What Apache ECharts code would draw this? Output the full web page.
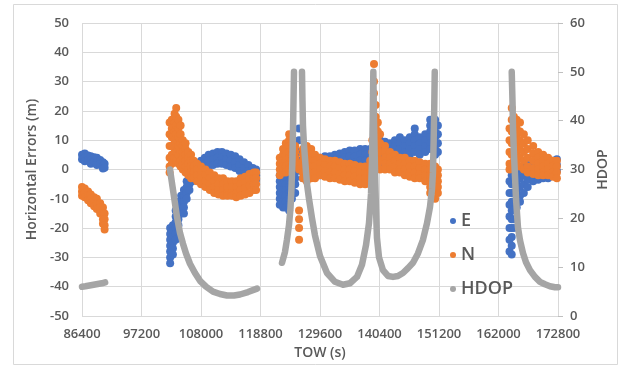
<!DOCTYPE html>
<html>
<head>
<meta charset="utf-8">
<script src="https://cdn.jsdelivr.net/npm/echarts@6/dist/echarts.min.js"></script>
<style>
html,body{margin:0;padding:0;background:#fff;}
#chart{width:620px;height:368px;}
</style>
</head>
<body>
<div id="chart"></div>
<script>
// ---- axis ticks ----
const xTicks = [86400, 97200, 108000, 118800, 129600, 140400, 151200, 162000, 172800];
const leftTicks = [-50, -40, -30, -20, -10, 0, 10, 20, 30, 40, 50];
const rightTicks = [0, 10, 20, 30, 40, 50, 60];
const seriesNames = ['E', 'N', 'HDOP'];

// ---- E (m): [TOW, values read at that TOW] ----
const eCols = [
  [86400, [5, 3.5]], [86900, [5.5, 4, 2.8]], [87500, [4.8, 3.2]], [88000, [4.5, 3, 2]],
  [88600, [4.2, 2.8]], [89100, [4, 2.5, 1.5]], [89700, [3.2, 1.8]], [90200, [2.5, 1, 0.3]], [90500, [2, 0.6]],
  [102400, [-20, -22, -24, -26, -28, -30, -32]], [102900, [-19, -21, -23, -25, -27, -29]],
  [103400, [-14, -16, -18, -20, -22, -24]], [103900, [-11, -13, -15, -17, -19]],
  [104400, [-9, -11, -13, -15]], [104900, [-7, -9, -11, -13, -15]], [105400, [-4, -6, -8, -10]],
  [105900, [-1, -3, -5, -7]], [106400, [0, -2, -4]], [106900, [1, -1, -3]], [107400, [2, 0, -2]],
  [108000, [3, 1, -1]], [108700, [4, 2, 0]], [109400, [5, 3, 1]], [110200, [5.5, 3.5, 1.5]],
  [111000, [6, 4, 2]], [111800, [6, 4, 2]], [112600, [5.5, 3.5, 1.5]], [113400, [5, 3, 1]],
  [114200, [4.5, 2.5, 0.5]], [115000, [3.5, 1.5, -0.5]], [115800, [2.5, 0.5, -1.5]],
  [116600, [1.5, -0.5, -2.5]], [117400, [0.5, -1.5, -3]], [118000, [0, -2, -3.5]],
  [122300, [-2, -4, -6, -8, -10, -12]], [122900, [-1, -3, -5, -7, -9, -11, -13]],
  [123400, [-1, -3, -5, -7, -9, -11, -13]], [124000, [0, -2, -4, -6, -8, -10, -12, -14]],
  [124500, [0, -2, -4, -6, -8, -10]], [125100, [1, -1, -3, -5, -8]], [125800, [14, 10, 6, 3, 0]],
  [126500, [3, 1, -1, -3]], [127200, [3, 1, -1, -3]], [128000, [3.5, 1.5, -0.5, -2.5]],
  [128700, [4, 2, 0, -2]], [129600, [4, 2, 0, -2]], [130500, [4.5, 2.5, 0.5, -1.5]],
  [131400, [4.5, 2.5, 0.5, -1]], [132300, [5, 3, 1, -1]], [133200, [5.5, 3.5, 1.5]],
  [134100, [6, 4, 2]], [135000, [6.5, 4.5, 2.5]], [135900, [6.5, 4.5, 2.5]], [136900, [7, 5, 3, 1]],
  [137800, [7, 5, 3, 1]], [138700, [7, 5, 3, 1]], [139600, [8, 6, 4, 2]], [140500, [10, 8, 6, 4, 2]],
  [141400, [9.5, 7.5, 5.5, 3.5]], [142300, [9, 7, 5, 3]], [143200, [10, 8, 6, 4]], [144100, [11, 9, 7, 5]],
  [145000, [10, 8, 6, 4]], [145900, [11, 9, 7, 5]], [146800, [14, 12, 10, 8, 6]], [147700, [11, 9, 7, 5]],
  [148700, [12, 10, 8, 6]], [149600, [17, 15, 13, 11, 9, 7]], [150500, [17, 15, 13, 11, 9, 7, 5]],
  [151000, [15, 12, 9, 6]],
  [164000, [-4, -8, -12, -16, -20, -24, -28]], [164400, [-2, -5, -8, -11, -14, -17, -20, -23, -26, -29]],
  [164800, [-2, -5, -8, -11, -14, -17, -20]], [165300, [-1, -4, -7, -10, -13]], [165900, [0, -3, -6, -9, -11]],
  [166600, [1, -2, -5, -8]], [167300, [1.5, -1, -3.5, -6]], [168300, [2, 0, -2, -4]], [169200, [2, 0, -2, -3.5]],
  [170100, [2, 0, -2, -3]], [171000, [2.5, 0.5, -1.5, -3]], [171900, [3, 1, -1]], [172600, [3.5, 1.5, -0.5]]
];

// ---- N (m) ----
const nCols = [
  [86400, [-6, -7.5, -9]], [86900, [-6.5, -8, -9.5]], [87500, [-7.5, -9, -10.5]], [88000, [-8.5, -10, -11.5]],
  [88600, [-9.5, -11, -12.5]], [89100, [-10, -11.5, -13.5]], [89700, [-11.5, -13, -15]],
  [90200, [-13, -15, -17, -18.5]], [90500, [-15, -17, -19, -20.5]],
  [102300, [16, 12, 8, 4, 1, -1]], [102700, [17, 14, 11, 8, 5, 2]], [103200, [19, 16, 13, 10, 7, 4]],
  [103500, [21, 18, 15, 12, 9, 6, 3]], [103900, [17, 14, 11, 8, 5, 2]], [104300, [15, 12, 9, 6, 3, 1]],
  [104700, [10, 8, 6, 4, 2, 0]], [105200, [9, 7, 5, 3, 1, -1]], [105700, [6, 4, 2, 0, -2]],
  [106200, [5, 3, 1, -1, -3]], [106700, [3, 1, -1, -3]], [107300, [2, 0, -2, -4]], [108000, [1, -1, -3, -5]],
  [108800, [0, -2, -4, -6]], [109600, [-1, -3, -5, -7]], [110400, [-2, -4, -6, -8]], [111200, [-3, -5, -7, -8.5]],
  [112000, [-3, -5, -7, -9]], [112800, [-4, -6, -8, -9]], [113600, [-4, -6, -8, -9]], [114400, [-4, -6, -8, -9.5]],
  [115200, [-3, -5, -7, -9]], [116000, [-2.5, -4.5, -6.5, -8.5]], [116800, [-1.5, -3.5, -5.5, -8]],
  [117600, [-1, -3, -5, -7]], [118000, [-1, -3, -5, -7]],
  [122300, [4, 2, 0, -2]], [122900, [7, 5, 3, 1, -1]], [123400, [9, 7, 5, 3, 1, -1]],
  [124000, [12, 10, 8, 6, 4, 2, 0]], [124500, [11, 9, 7, 5, 3, 1]], [125100, [8, 6, 4, 2]],
  [125800, [2, 0, -14, -17, -20, -24]], [126500, [7, 5, 3, 1, -1, -3]], [127200, [8, 6, 4, 2, 0, -2, -4]],
  [128000, [7, 5, 3, 1, -1, -3]], [128700, [5, 3, 1, -1, -3]], [129600, [4, 2, 0, -2]],
  [130500, [3.5, 1.5, -0.5, -2.5]], [131400, [3, 1, -1, -3]], [132300, [3, 1, -1, -3]],
  [133200, [2.5, 0.5, -1.5, -3.5]], [134100, [2, 0, -2, -4]], [135000, [2, 0, -2, -4]],
  [135900, [1.5, -0.5, -2.5, -4.5]], [136900, [1, -1, -3, -5]], [137800, [1, -1, -3, -5]],
  [138700, [3, 1, -1, -3, -5]], [139100, [10, 6, 2, -2]], [139400, [36, 30, 26, 22, 18, 14, 10, 6, 2]],
  [139700, [22, 18, 14, 10, 6, 2]], [140100, [16, 13, 10, 7, 4, 1]], [140500, [12, 9, 6, 3, 0]],
  [141400, [8, 6, 4, 2, 0]], [142300, [6, 4, 2, 0]], [143200, [5, 3, 1, -1]], [144100, [4, 2, 0, -1]],
  [145000, [4, 2, 0, -2]], [145900, [3, 1, -1, -2.5]], [146800, [3, 1, -1, -3]], [147700, [2.5, 0.5, -1.5, -3]],
  [148700, [2, 0, -2, -4]], [149600, [2, 0, -2, -4, -6, -8]], [150500, [1, -1, -3, -5, -7, -10]],
  [151000, [0, -2, -4, -6, -8]],
  [164000, [14, 10, 6, 2, 0]], [164400, [21, 17, 13, 9, 5, 1]], [164800, [18, 15, 12, 9, 6, 3, 0]],
  [165300, [17, 14, 11, 8, 5, 2]], [165900, [16, 13, 10, 7, 4, 1]], [166600, [12, 9, 6, 3, 0]],
  [167300, [10, 7, 4, 1, -1]], [168300, [8, 5.5, 3, 0.5, -1.5]], [169200, [6, 4, 2, 0, -2]],
  [170100, [5, 3, 1, -1, -2]], [171000, [4, 2, 0, -2]], [171900, [3, 1, -1, -2.5]], [172600, [3, 1, -1, -3]]
];

// ---- HDOP segments: [TOW, HDOP] ----
const hdopA = [[86400, 6.0], [87000, 6.1], [88000, 6.3], [89000, 6.5], [90000, 6.7], [90600, 6.9]];
const hdopB = [[102370, 30], [102920, 25.8], [103640, 20.3], [104190, 17], [104730, 14.8], [105280, 12.8],
  [106000, 10.7], [106910, 8.8], [107820, 7.2], [108910, 6], [110180, 5.0], [111450, 4.5], [112720, 4.2],
  [113990, 4.2], [115080, 4.4], [116530, 4.9], [118160, 5.6]];
const hdopC1 = [[122700, 10.9], [123240, 13.1], [123600, 15.6], [123970, 18.6], [124240, 22], [124420, 26],
  [124600, 32], [124700, 38], [124790, 44], [124880, 50]];
const hdopC2 = [[126330, 50], [126420, 44], [126510, 39], [126690, 35], [126960, 31], [127240, 27], [127600, 24],
  [128150, 20], [128690, 16.5], [129600, 12.3], [130870, 8.8], [132320, 7.0], [133770, 6.4], [135040, 6.7],
  [136310, 8.0], [137220, 10.5], [137950, 14.5], [138490, 19], [138860, 25], [139040, 32], [139170, 40],
  [139280, 50], [139400, 40], [139580, 30], [139760, 22], [139940, 16], [140310, 12], [141030, 9.4],
  [141940, 8.2], [142850, 8.0], [143750, 8.2], [144660, 8.8], [145570, 9.8], [146480, 10.9], [147380, 12.8],
  [148290, 15.6], [149020, 19], [149560, 22.3], [149930, 26], [150100, 29.3], [150230, 36], [150340, 43], [150430, 50]];
const hdopD = [[164400, 50], [164540, 44], [164630, 38.7], [164810, 33], [165000, 28.5], [165180, 24],
  [165530, 18.2], [165900, 15.5], [166440, 12.9], [166990, 11], [167710, 9.4], [168620, 8], [169530, 7.0],
  [170430, 6.5], [171340, 6.1], [172250, 5.9], [172800, 5.9]];

const colors = { E: '#4472C4', N: '#ED7D31', HDOP: '#A5A5A5' };
const txt = '#595959';
const FONT = 'Open Sans';
const FW = 600;

function flatten(cols) {
  const out = [];
  cols.forEach(([t, vs]) => vs.forEach(v => out.push([t, v])));
  return out;
}

const chart = echarts.init(document.getElementById('chart'), null, { renderer: 'canvas' });

function hdopSeries(data) {
  return {
    name: 'HDOP', type: 'line', yAxisIndex: 1, data: data, showSymbol: false, symbol: 'none',
    itemStyle: { color: colors.HDOP },
    lineStyle: { color: colors.HDOP, width: 6.5, cap: 'round', join: 'round' },
    silent: true, z: 3
  };
}

chart.setOption({
  animation: false,
  backgroundColor: '#fff',
  textStyle: { fontFamily: FONT },
  graphic: [{
    type: 'rect', shape: { x: 13.5, y: 4.5, width: 604, height: 360 },
    style: { fill: null, stroke: '#D9D9D9', lineWidth: 1 }, silent: true
  }],
  grid: { left: 82, right: 62, top: 23, bottom: 52 },
  legend: {
    data: seriesNames, orient: 'vertical', left: 445, top: 207, itemGap: 16,
    icon: 'circle', itemWidth: 6, itemHeight: 6,
    textStyle: { color: txt, fontSize: 18, fontWeight: FW, fontFamily: FONT }
  },
  xAxis: {
    type: 'value', min: xTicks[0], max: xTicks[xTicks.length - 1], interval: xTicks[1] - xTicks[0],
    name: 'TOW (s)', nameLocation: 'middle', nameGap: 29,
    nameTextStyle: { color: txt, fontSize: 14, fontWeight: FW, fontFamily: FONT },
    axisLine: { show: false }, axisTick: { show: false },
    axisLabel: { color: txt, fontSize: 13, fontWeight: FW, margin: 12, fontFamily: FONT, formatter: v => String(v) },
    splitLine: { show: true, lineStyle: { color: '#D9D9D9', width: 1 } }
  },
  yAxis: [{
    type: 'value', min: leftTicks[0], max: leftTicks[leftTicks.length - 1], interval: leftTicks[1] - leftTicks[0],
    name: 'Horizontal Errors (m)', nameLocation: 'middle', nameGap: 41, nameRotate: 90,
    nameTextStyle: { color: txt, fontSize: 14, fontWeight: FW, fontFamily: FONT },
    axisLine: { show: false }, axisTick: { show: false },
    axisLabel: { color: txt, fontSize: 13, fontWeight: FW, margin: 13, fontFamily: FONT },
    splitLine: { show: true, lineStyle: { color: '#D9D9D9', width: 1 } }
  }, {
    type: 'value', position: 'right', min: rightTicks[0], max: rightTicks[rightTicks.length - 1], interval: rightTicks[1] - rightTicks[0],
    name: 'HDOP', nameLocation: 'middle', nameGap: 38, nameRotate: 90,
    nameTextStyle: { color: txt, fontSize: 14, fontWeight: FW, fontFamily: FONT },
    axisLine: { show: true, lineStyle: { color: '#D9D9D9' } },
    axisTick: { show: true, length: 5, lineStyle: { color: '#BFBFBF' } },
    axisLabel: { color: txt, fontSize: 13, fontWeight: FW, margin: 12, fontFamily: FONT },
    splitLine: { show: false }
  }],
  series: [
    { name: 'E', type: 'scatter', data: flatten(eCols), symbolSize: 8, itemStyle: { color: colors.E, opacity: 1 }, z: 2 },
    { name: 'N', type: 'scatter', data: flatten(nCols), symbolSize: 8, itemStyle: { color: colors.N, opacity: 1 }, z: 2 },
    hdopSeries(hdopA), hdopSeries(hdopB), hdopSeries(hdopC1), hdopSeries(hdopC2), hdopSeries(hdopD)
  ]
});
</script>
</body>
</html>
